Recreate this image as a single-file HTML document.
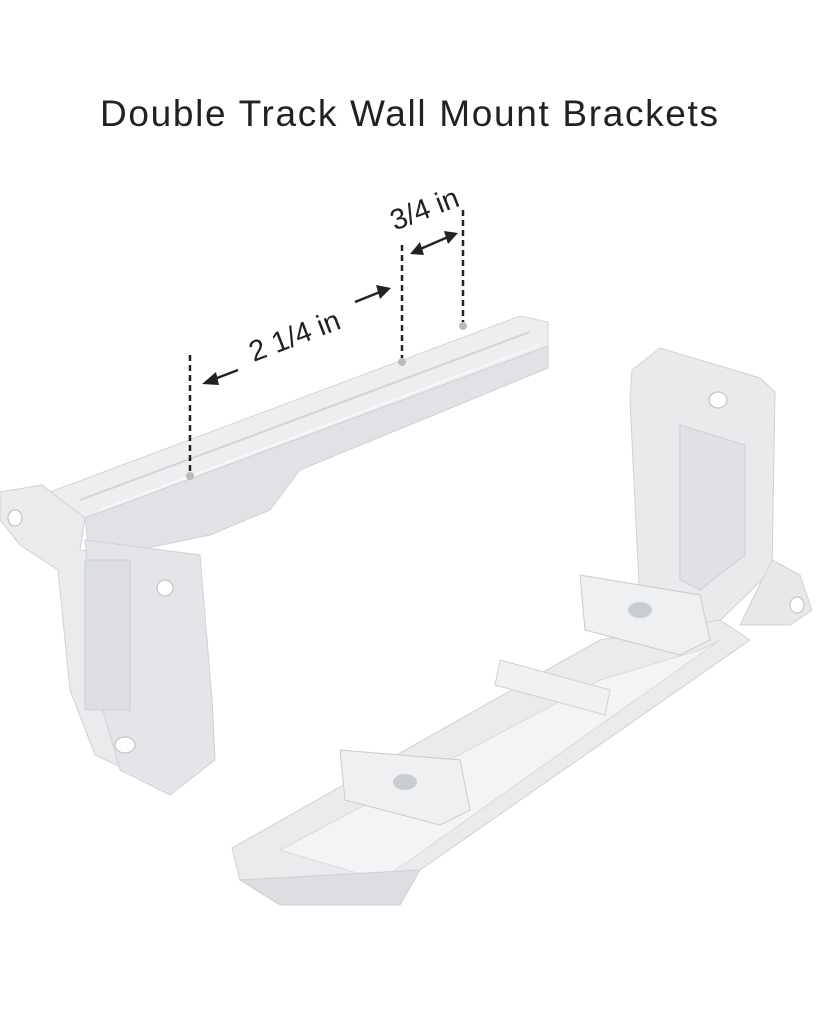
<!DOCTYPE html>
<html><head><meta charset="utf-8"><style>
html,body{margin:0;padding:0;background:#fff}
body{width:819px;height:1024px;overflow:hidden}
</style></head><body>
<svg width="819" height="1024" viewBox="0 0 819 1024" xmlns="http://www.w3.org/2000/svg">
<rect width="819" height="1024" fill="#ffffff"/>
<text x="100" y="126" textLength="618" lengthAdjust="spacing" font-family="Liberation Sans, sans-serif" font-size="37" fill="#222">Double Track Wall Mount Brackets</text>

<!-- left bracket arm -->
<polygon points="42,495 520,316 548,322 548,346 85,518" fill="#eceef0" stroke="#d4d6d9"/>
<polygon points="85,518 548,346 548,368 300,470 270,510 210,535 90,560" fill="#e0e2e5" stroke="#cfd1d4"/>
<line x1="80" y1="500" x2="530" y2="332" stroke="#d2d4d7" stroke-width="2"/>
<line x1="100" y1="510" x2="540" y2="345" stroke="#f7f7f8" stroke-width="2"/>
<!-- left vertical plate -->
<polygon points="0,492 42,485 85,518 80,550 180,565 200,600 212,700 215,760 170,790 95,755 70,690 58,570 20,545 0,520" fill="#e9ebed" stroke="#cfd1d4"/>
<polygon points="85,540 200,555 212,700 215,760 170,795 120,770 100,700" fill="#e3e5e8" stroke="#cfd1d4"/>
<rect x="85" y="560" width="45" height="150" fill="#dcdee1" stroke="#cdd0d3"/>
<ellipse cx="15" cy="518" rx="7" ry="8" fill="#fff" stroke="#bbb"/>
<ellipse cx="165" cy="588" rx="8" ry="8" fill="#fff" stroke="#bbb"/>
<ellipse cx="125" cy="745" rx="10" ry="8" fill="#fff" stroke="#bbb"/>
<circle cx="190" cy="476" r="4" fill="#bbb"/>
<circle cx="402" cy="362" r="4" fill="#bbb"/>
<circle cx="463" cy="326" r="4" fill="#bbb"/>

<!-- right bracket vertical plate -->
<polygon points="632,370 660,348 760,378 775,392 772,570 700,640 640,605 630,400" fill="#e8eaec" stroke="#cfd1d4"/>
<polygon points="680,425 745,445 745,555 700,590 680,580" fill="#dfe1e4" stroke="#cdd0d3"/>
<ellipse cx="718" cy="400" rx="9" ry="8" fill="#fff" stroke="#bbb"/>
<polygon points="772,560 800,575 812,610 790,625 740,625" fill="#e6e8ea" stroke="#cfd1d4"/>
<ellipse cx="797" cy="605" rx="7" ry="8" fill="#fff" stroke="#bbb"/>
<!-- tray -->
<polygon points="232,848 600,640 720,620 750,640 420,870 400,890 280,900 240,880" fill="#e9ebed" stroke="#cfd1d4"/>
<polygon points="280,850 600,680 700,650 720,640 410,860 380,880" fill="#f3f4f5" stroke="#d8dadd"/>
<polygon points="240,880 420,870 400,905 280,905" fill="#dcdee1" stroke="#cdd0d3"/>
<polygon points="500,660 610,690 605,715 495,685" fill="#f0f1f2" stroke="#cfd1d4"/>
<!-- clips -->
<polygon points="580,575 700,595 710,640 680,655 585,630" fill="#eef0f1" stroke="#c8cbce"/>
<ellipse cx="640" cy="610" rx="12" ry="8" fill="#c9ccd0"/>
<polygon points="340,750 460,760 470,810 440,825 345,800" fill="#eef0f1" stroke="#c8cbce"/>
<ellipse cx="405" cy="782" rx="12" ry="8" fill="#c9ccd0"/>

<!-- dimensions -->
<g stroke="#222" stroke-width="2.5" stroke-dasharray="6,4">
<line x1="190" y1="355" x2="190" y2="472"/>
<line x1="402" y1="245" x2="402" y2="358"/>
<line x1="463" y1="210" x2="463" y2="322"/>
</g>
<g stroke="#222" stroke-width="2.5" fill="#222">
<line x1="212" y1="380" x2="238" y2="370"/>
<polygon points="202,384 216,372 219,385" stroke="none"/>
<line x1="355" y1="302" x2="380" y2="292"/>
<polygon points="391,288 376,285 380,299" stroke="none"/>
<line x1="418" y1="250" x2="448" y2="237"/>
<polygon points="410,254 420,242 424,255" stroke="none"/>
<polygon points="458,233 444,231 448,244" stroke="none"/>
</g>
<text transform="translate(298,345) rotate(-21)" text-anchor="middle" font-family="Liberation Sans, sans-serif" font-size="29" fill="#222">2 1/4 in</text>
<text transform="translate(428,218) rotate(-21)" text-anchor="middle" font-family="Liberation Sans, sans-serif" font-size="29" fill="#222">3/4 in</text>
</svg>
</body></html>
